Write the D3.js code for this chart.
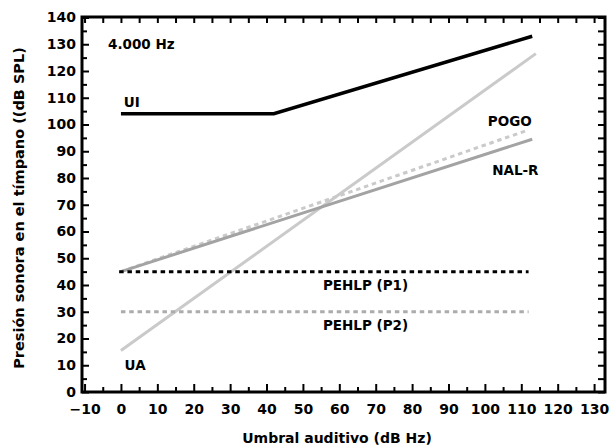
<!DOCTYPE html>
<html>
<head>
<meta charset="utf-8">
<script src="https://cdn.jsdelivr.net/npm/d3@7"></script>
<style>
  html, body { margin: 0; padding: 0; background: #fff; }
  svg { display: block; }
  text { font-family: "DejaVu Sans", sans-serif; font-weight: bold; fill: #000; }
</style>
</head>
<body>
<svg id="chart" width="612" height="447"></svg>
<script>
// ---- data ----
const xTicks = [-10, 0, 10, 20, 30, 40, 50, 60, 70, 80, 90, 100, 110, 120, 130];
const yTicks = [0, 10, 20, 30, 40, 50, 60, 70, 80, 90, 100, 110, 120, 130, 140];
const seriesNames = ["UA", "POGO", "NAL-R", "PEHLP (P2)", "PEHLP (P1)", "UI"];
const uiX = [0, 42, 113];   const uiY = [104, 104, 133];
const uaX = [0, 114];       const uaY = [15.5, 126.5];
const pogoX = [0, 112];     const pogoY = [45, 98];
const nalX = [0, 113];      const nalY = [45, 94.5];
const p1X = [-0.5, 112];    const p1Y = [45, 45];
const p2X = [0, 112];       const p2Y = [30, 30];
const freqLabel = "4.000 Hz";
const xTitle = "Umbral auditivo (dB Hz)";
const yTitle = "Presión sonora en el tímpano ((dB SPL)";

// ---- layout / style ----
const L = 82, R = 605, T = 17, B = 392;
const x = d3.scaleLinear().domain([-10.7, 133]).range([L, R]);
const y = d3.scaleLinear().domain([0, 140]).range([B, 17.5]);
const svg = d3.select("#chart");

const styles = {
  "UI":         { color: "#000000", width: 3.5, dash: null },
  "UA":         { color: "#cacaca", width: 3,   dash: null },
  "POGO":       { color: "#cacaca", width: 3,   dash: "4.5,3.8" },
  "NAL-R":      { color: "#a3a3a3", width: 3,   dash: null },
  "PEHLP (P1)": { color: "#000000", width: 3,   dash: "4.5,3.8" },
  "PEHLP (P2)": { color: "#acacac", width: 3,   dash: "4.5,3.8" }
};
const seriesData = {
  "UI": [uiX, uiY], "UA": [uaX, uaY], "POGO": [pogoX, pogoY],
  "NAL-R": [nalX, nalY], "PEHLP (P1)": [p1X, p1Y], "PEHLP (P2)": [p2X, p2Y]
};
// label anchor positions (in data units)
const labelPos = {
  "UI": [0.8, 106.5], "UA": [1, 8.3], "POGO": [100.8, 99.3],
  "NAL-R": [102, 81.3], "PEHLP (P1)": [55.5, 38], "PEHLP (P2)": [55.5, 23]
};

// ---- axes (ticks inward) ----
const minorX = d3.range(-5, 131, 10);
const minorY = d3.range(5, 141, 10);
const allY = d3.range(0, 141, 5);

function styleAxis(g) {
  g.select(".domain").remove();
  g.selectAll(".tick line").attr("stroke", "#000").attr("stroke-width", 2);
}

// bottom major with labels
svg.append("g").attr("transform", `translate(0,${B})`)
  .call(d3.axisBottom(x).tickValues(xTicks).tickSize(-8).tickPadding(10))
  .call(styleAxis)
  .call(g => g.selectAll("text").attr("font-size", 14).attr("y", 12.5).attr("dy", "0.71em")
    .style("font-family", "DejaVu Sans").style("font-weight", "bold"));
// bottom minor
svg.append("g").attr("transform", `translate(0,${B})`)
  .call(d3.axisBottom(x).tickValues(minorX).tickSize(-5).tickFormat(""))
  .call(styleAxis);
// top ticks
svg.append("g").attr("transform", `translate(0,${T})`)
  .call(d3.axisTop(x).tickValues(xTicks.concat(minorX)).tickSize(-6).tickFormat(""))
  .call(styleAxis);
// left major with labels
svg.append("g").attr("transform", `translate(${L},0)`)
  .call(d3.axisLeft(y).tickValues(yTicks).tickSize(-7).tickPadding(6))
  .call(styleAxis)
  .call(g => g.selectAll("text").attr("font-size", 14).attr("x", -6)
    .style("font-family", "DejaVu Sans").style("font-weight", "bold"));
svg.append("g").attr("transform", `translate(${L},0)`)
  .call(d3.axisLeft(y).tickValues(minorY).tickSize(-5).tickFormat(""))
  .call(styleAxis);
// right ticks
svg.append("g").attr("transform", `translate(${R},0)`)
  .call(d3.axisRight(y).tickValues(allY).tickSize(-7).tickFormat(""))
  .call(styleAxis);

// frame
svg.append("rect").attr("x", L).attr("y", T).attr("width", R - L).attr("height", B - T)
  .attr("fill", "none").attr("stroke", "#000").attr("stroke-width", 3);

// ---- lines ----
const line = d3.line().x(d => x(d[0])).y(d => y(d[1]));
seriesNames.forEach(name => {
  const [xs, ys] = seriesData[name];
  const pts = xs.map((v, i) => [v, ys[i]]);
  const s = styles[name];
  svg.append("path").datum(pts).attr("d", line)
    .attr("fill", "none").attr("stroke", s.color).attr("stroke-width", s.width)
    .attr("stroke-dasharray", s.dash).attr("stroke-linejoin", "miter");
});

// ---- labels ----
seriesNames.forEach(name => {
  const p = labelPos[name];
  svg.append("text").attr("x", x(p[0])).attr("y", y(p[1]))
    .attr("font-size", 13.5).text(name);
});
svg.append("text").attr("x", 108).attr("y", 49).attr("font-size", 13.5).text(freqLabel);

// titles
svg.append("text").attr("x", 337).attr("y", 443).attr("text-anchor", "middle")
  .attr("font-size", 14).text(xTitle);
svg.append("text").attr("transform", `translate(24,208) rotate(-90)`)
  .attr("text-anchor", "middle").attr("font-size", 14.5).text(yTitle);
</script>
</body>
</html>
